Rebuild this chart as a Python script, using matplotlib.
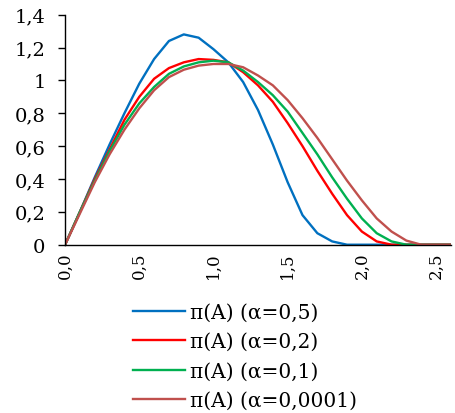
#%%
# grafik pi(A) untuk beberapa nilai alpha
import numpy as np
import matplotlib.pyplot as plt

#%%
# data (langkah 0,1)
A = [0.0, 0.1, 0.2, 0.3, 0.4, 0.5, 0.6, 0.7, 0.8, 0.9, 1.0, 1.1, 1.2, 1.3,
     1.4, 1.5, 1.6, 1.7, 1.8, 1.9, 2.0, 2.1, 2.2, 2.3, 2.4, 2.5, 2.6]
pi_05 = [0, 0.20, 0.41, 0.61, 0.80, 0.98, 1.13, 1.24, 1.28, 1.26, 1.19, 1.11,
         0.99, 0.82, 0.61, 0.38, 0.18, 0.07, 0.02, 0, 0, 0, 0, 0, 0, 0, 0]
pi_02 = [0, 0.20, 0.40, 0.58, 0.76, 0.90, 1.01, 1.075, 1.11, 1.13, 1.125, 1.11,
         1.05, 0.97, 0.87, 0.74, 0.60, 0.45, 0.31, 0.18, 0.08, 0.02, 0, 0, 0, 0, 0]
pi_01 = [0, 0.20, 0.39, 0.57, 0.73, 0.86, 0.96, 1.04, 1.085, 1.11, 1.12, 1.11,
         1.06, 0.99, 0.91, 0.81, 0.68, 0.55, 0.41, 0.28, 0.16, 0.07, 0.02, 0, 0, 0, 0]
pi_00001 = [0, 0.19, 0.38, 0.55, 0.70, 0.83, 0.94, 1.02, 1.065, 1.09, 1.10, 1.10,
            1.08, 1.03, 0.97, 0.88, 0.77, 0.65, 0.52, 0.39, 0.27, 0.16, 0.08, 0.025, 0, 0, 0]

labels = ['π(A) (α=0,5)', 'π(A) (α=0,2)', 'π(A) (α=0,1)', 'π(A) (α=0,0001)']
colors = ['#0070C0', '#FF0000', '#00B050', '#C0504D']
xticks = [0.0, 0.5, 1.0, 1.5, 2.0, 2.5]
xticklabels = ['0,0', '0,5', '1,0', '1,5', '2,0', '2,5']
yticks = [0, 0.2, 0.4, 0.6, 0.8, 1.0, 1.2, 1.4]
yticklabels = ['0', '0,2', '0,4', '0,6', '0,8', '1', '1,2', '1,4']

#%%
plt.rcParams['font.family'] = ['DejaVu Serif']
fig = plt.figure(figsize=(4.55, 4.14), dpi=100)
ax = fig.add_axes([0.143, 0.4065, 0.848, 0.5556])

for y, lab, c in zip([pi_05, pi_02, pi_01, pi_00001], labels, colors):
    ax.plot(A, y, color=c, lw=1.7, label=lab)

ax.set_xlim(0, 2.6)
ax.set_ylim(0, 1.4)
ax.set_xticks(xticks)
ax.set_xticklabels(xticklabels, rotation=90, fontsize=12)
ax.set_yticks(yticks)
ax.set_yticklabels(yticklabels, fontsize=14)
ax.tick_params(axis='x', length=0, pad=5)
ax.tick_params(axis='y', length=5, width=1, pad=9)
for s in ['top', 'right']:
    ax.spines[s].set_visible(False)
for s in ['left', 'bottom']:
    ax.spines[s].set_color('black')
    ax.spines[s].set_linewidth(1)

fig.legend(loc='upper left', bbox_to_anchor=(0.27, 0.29), frameon=False,
           fontsize=14.5, handlelength=2.6, handletextpad=0.25, borderpad=0,
           labelspacing=0.51)

plt.savefig('out.png', dpi=100)
